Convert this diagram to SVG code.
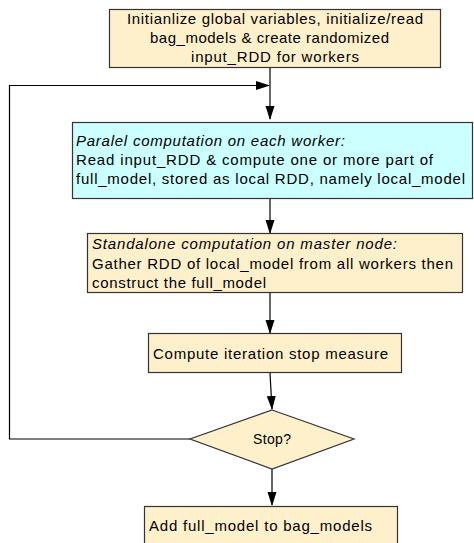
<svg xmlns="http://www.w3.org/2000/svg" width="474" height="543" viewBox="0 0 474 543">
  <defs>
    <marker id="arrow" markerWidth="14" markerHeight="10" refX="13" refY="5" orient="auto" markerUnits="userSpaceOnUse">
      <path d="M0,0.5 L14,5 L0,9.5 Z" fill="#000"/>
    </marker>
    <style>
      .box { fill: #FFF0CC; stroke: #333; stroke-width: 1.2; }
      .cyan { fill: #CCFFFF; stroke: #333; stroke-width: 1.2; }
      .lbl { font-family: "Liberation Sans", Arial, sans-serif; font-size: 15px; fill: #000; }
      .it { font-style: italic; }
      .edge { fill: none; stroke: #000; stroke-width: 1.2; }
    </style>
  </defs>
  <rect width="474" height="543" fill="#fff"/>

  <g id="connectors">
    <path class="edge" d="M270,68 L270,119" marker-end="url(#arrow)"/>
    <path class="edge" d="M190,439 L9.5,439 L9.5,85.5 L269,85.5" marker-end="url(#arrow)"/>
    <path class="edge" d="M270,199 L270,233" marker-end="url(#arrow)"/>
    <path class="edge" d="M270,293 L270,333" marker-end="url(#arrow)"/>
    <path class="edge" d="M270,373 L272,409" marker-end="url(#arrow)"/>
    <path class="edge" d="M272,469 L272,505" marker-end="url(#arrow)"/>
  </g>

  <g id="init">
    <rect class="box" x="109.5" y="9.5" width="331" height="58"/>
    <text class="lbl" x="127" y="24" textLength="296" lengthAdjust="spacing">Initianlize global variables, initialize/read</text>
    <text class="lbl" x="150" y="43" textLength="239" lengthAdjust="spacing">bag_models &amp; create randomized</text>
    <text class="lbl" x="191" y="62" textLength="168" lengthAdjust="spacing">input_RDD for workers</text>
  </g>

  <g id="parallel">
    <rect class="cyan" x="72.5" y="122.5" width="400" height="76"/>
    <text class="lbl it" x="76" y="146" textLength="269" lengthAdjust="spacing">Paralel computation on each worker:</text>
    <text class="lbl" x="76" y="165" textLength="357" lengthAdjust="spacing">Read input_RDD &amp; compute one or more part of</text>
    <text class="lbl" x="76" y="184" textLength="389" lengthAdjust="spacing">full_model, stored as local RDD, namely local_model</text>
  </g>

  <g id="standalone">
    <rect class="box" x="87.5" y="233.5" width="375" height="59"/>
    <text class="lbl it" x="92" y="249" textLength="305" lengthAdjust="spacing">Standalone computation on master node:</text>
    <text class="lbl" x="92" y="269" textLength="361" lengthAdjust="spacing">Gather RDD of local_model from all workers then</text>
    <text class="lbl" x="92" y="288" textLength="174" lengthAdjust="spacing">construct the full_model</text>
  </g>

  <g id="stopmeasure">
    <rect class="box" x="148.5" y="333.5" width="253" height="39"/>
    <text class="lbl" x="153" y="359" textLength="235" lengthAdjust="spacing">Compute iteration stop measure</text>
  </g>

  <g id="decision">
    <polygon class="box" points="272,410 354,439 272,469 190,439"/>
    <text class="lbl" x="253" y="444" style="font-size:14px" textLength="38" lengthAdjust="spacing">Stop?</text>
  </g>

  <g id="addmodel">
    <rect class="box" x="144.5" y="506.5" width="253" height="40"/>
    <text class="lbl" x="149" y="531" textLength="223" lengthAdjust="spacing">Add full_model to bag_models</text>
  </g>
</svg>
